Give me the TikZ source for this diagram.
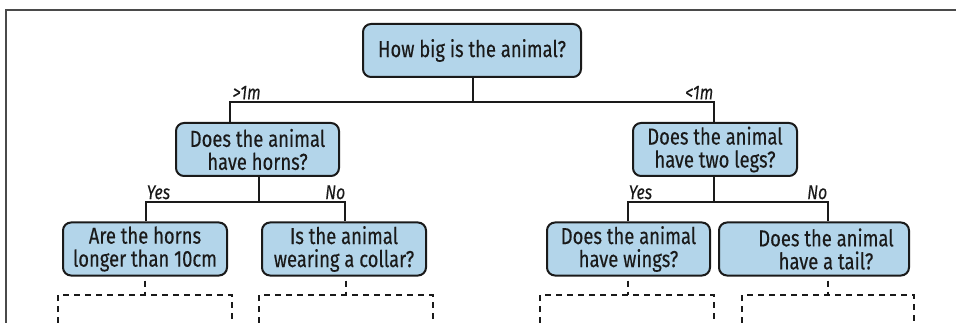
\documentclass[tikz,border=0pt]{standalone}
\usepackage{fontspec}
\setmainfont[FakeStretch=0.8,FakeBold=0.25]{Fira Sans}
\newfontfamily\labelfont[FakeStretch=0.8,FakeBold=0.15]{Fira Sans}
\definecolor{qfill}{HTML}{B3D5EA}
\definecolor{qline}{HTML}{1A1A1A}
\definecolor{framegray}{HTML}{4A4A4A}
\begin{document}
\begin{tikzpicture}[x=1pt,y=-1pt,
  question/.style={draw=qline,fill=qfill,line width=2pt,rounded corners=8pt,
    align=center,font=\fontsize{23}{23}\selectfont,inner sep=0pt,
    minimum height=53pt,text=qline},
  branch/.style={draw=qline,line width=2pt},
  answer/.style={font=\labelfont\itshape\fontsize{20}{20}\selectfont,inner sep=0.5pt,text=qline},
  leaf/.style={draw=qline,line width=2pt,dash pattern=on 6pt off 5pt}]
\useasboundingbox (0,0) rectangle (956,323);
% frame
\draw[framegray,line width=1.5pt] (6,323) -- (6,10) -- (956,10);

% questions
\node[question,minimum width=218pt,minimum height=53pt] (root) at (472,50.5) {How big is the animal?};
\node[question,minimum width=163pt] (horns) at (257.5,149.5) {Does the animal\\have horns?};
\node[question,minimum width=164pt] (legs) at (715,149.5) {Does the animal\\have two legs?};
\node[question,minimum width=164pt] (long) at (145,249) {Are the horns\\longer than 10cm};
\node[question,minimum width=164pt] (collar) at (344,249) {Is the animal\\wearing a collar?};
\node[question,minimum width=163pt] (wings) at (628.5,249) {Does the animal\\have wings?};
\node[question,minimum width=190pt] (tail) at (814,249) {\hspace*{24pt}Does the animal\\\hspace*{24pt}have a tail?};

% junction points
\coordinate (r0) at (473,102);
\coordinate (rl) at (230,102);
\coordinate (rr) at (714,102);
\coordinate (h0) at (259,202);
\coordinate (hl) at (146,202);
\coordinate (hr) at (345,202);
\coordinate (g0) at (714,202);
\coordinate (gl) at (628,202);
\coordinate (gr) at (828,202);

% first level
\draw[branch] (root.south -| r0) -- (r0);
\draw[branch] (rl |- horns.north) -- (rl) -- (rr) -- (rr |- legs.north);
\node[answer,anchor=south west] (big) at (232,100) {>1m};
\node[answer,anchor=south east] (small) at (714,100) {<1m};

% second level, left
\draw[branch] (horns.south -| h0) -- (h0);
\draw[branch] (hl |- long.north) -- (hl) -- (hr) -- (hr |- collar.north);
\node[answer,anchor=south west] (hyes) at (146,200) {Yes};
\node[answer,anchor=south east] (hno) at (346,200) {No};

% second level, right
\draw[branch] (legs.south -| g0) -- (g0);
\draw[branch] (gl |- wings.north) -- (gl) -- (gr) -- (gr |- tail.north);
\node[answer,anchor=south west] (lyes) at (628,200) {Yes};
\node[answer,anchor=south east] (lno) at (828,200) {No};

% further branches, left open
\foreach \n/\cx/\xa/\xb in {long/145/58/232, collar/346/259/433, wings/628/540/714, tail/828/742/914}{
  \coordinate (\n-top) at (\cx,295);
  \draw[leaf] (\n.south -| \n-top) ++(0,4) -- (\n-top);
  \draw[leaf] (\xa,323) -- (\xa,295) -- (\xb,295) -- (\xb,323);
}
\end{tikzpicture}
\end{document}
